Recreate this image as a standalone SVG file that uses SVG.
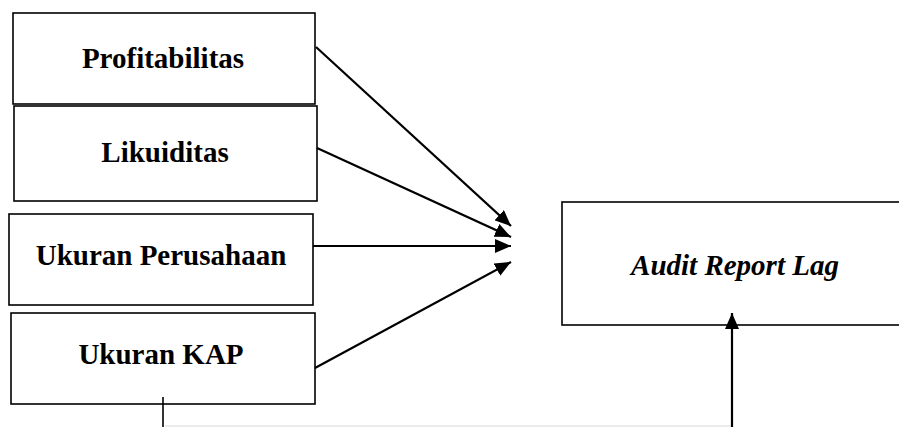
<svg xmlns="http://www.w3.org/2000/svg" width="899" height="427" viewBox="0 0 899 427">
<style>
.box{fill:#fff;stroke:#000;stroke-width:1.6}
.lbl{font-family:"Liberation Serif","Times New Roman",serif;font-weight:bold;font-size:29px;fill:#000;text-anchor:middle}
.it{font-style:italic}
.conn{stroke:#000;stroke-width:2.2;fill:none}
</style>
<defs>
<marker id="ah" markerWidth="16" markerHeight="14" refX="16" refY="7" orient="auto" markerUnits="userSpaceOnUse">
<path d="M0,0 L16,7 L0,14 Z" fill="#000"/>
</marker>
</defs>
<rect x="0" y="0" width="899" height="427" fill="#fff"/>
<g id="node-profitabilitas">
<rect class="box" x="13" y="13" width="302" height="91"/>
<text class="lbl" x="163" y="68">Profitabilitas</text>
</g>
<g id="node-likuiditas">
<rect class="box" x="14" y="106" width="303" height="95"/>
<text class="lbl" x="165" y="162">Likuiditas</text>
</g>
<g id="node-ukuran-perusahaan">
<rect class="box" x="9" y="214" width="304" height="91"/>
<text class="lbl" x="161" y="265">Ukuran Perusahaan</text>
</g>
<g id="node-ukuran-kap">
<rect class="box" x="11" y="313" width="304" height="91"/>
<text class="lbl" x="161" y="364">Ukuran KAP</text>
</g>
<g id="node-audit-report-lag">
<rect class="box" x="562" y="202" width="345" height="123"/>
<text class="lbl it" x="735" y="275">Audit Report Lag</text>
</g>
<g id="connectors">
<line class="conn" x1="316" y1="47" x2="511" y2="226" marker-end="url(#ah)"/>
<line class="conn" x1="317" y1="148" x2="511" y2="237" marker-end="url(#ah)"/>
<line class="conn" x1="313" y1="246" x2="511" y2="246" marker-end="url(#ah)"/>
<line class="conn" x1="315" y1="368" x2="511" y2="262" marker-end="url(#ah)"/>
<line x1="163" y1="397" x2="163" y2="427" stroke="#000" stroke-width="1.6"/>
<line x1="165" y1="426" x2="731" y2="426" stroke="#e4e4e4" stroke-width="1.5"/>
<line class="conn" x1="732" y1="427" x2="732" y2="313" marker-end="url(#ah)"/>
</g>
</svg>
